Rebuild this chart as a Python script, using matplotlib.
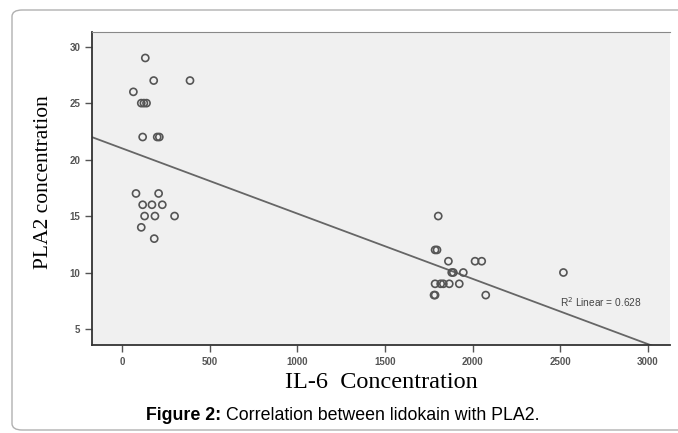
import numpy as np
import matplotlib
matplotlib.use("Agg")
import matplotlib.pyplot as plt
from matplotlib.patches import FancyBboxPatch

# IL-6 vs PLA2 values
il6 = [133, 181, 388, 65, 110, 125, 140, 118, 201, 213,
       80, 209, 118, 171, 230, 129, 188, 300, 110, 184,
       1804, 1786, 1797, 1862, 2014, 2052,
       1881, 1890, 1947, 2518,
       1786, 1818, 1833, 1867, 1924,
       1780, 1786, 2075]
pla2 = [29, 27, 27, 26, 25, 25, 25, 22, 22, 22,
        17, 17, 16, 16, 16, 15, 15, 15, 14, 13,
        15, 12, 12, 11, 11, 11,
        10, 10, 10, 10,
        9, 9, 9, 9, 9,
        8, 8, 8]

# fit line as printed by SPSS
intercept = 21.0
slope = -0.00578
r2_text = "R$^2$ Linear = 0.628"

x_ticks = [0, 500, 1000, 1500, 2000, 2500, 3000]
y_ticks = [5, 10, 15, 20, 25, 30]

fig = plt.figure(figsize=(6.78, 4.33), dpi=100)

# card frame round the figure
card = FancyBboxPatch((12 / 678, 3 / 433), 700 / 678, 420 / 433,
                      boxstyle="round,pad=0,rounding_size=0.015",
                      transform=fig.transFigure, fill=False,
                      edgecolor="#b0b0b0", linewidth=1.0)
fig.patches.append(card)

ax = fig.add_axes([92 / 678, 1 - 345 / 433, 578 / 678, 313 / 433])
ax.set_facecolor("#f0f0f0")

ax.scatter(il6, pla2, s=26, facecolors="none", edgecolors="#555555",
           linewidths=1.2, zorder=3)

xs = np.array([-171, 3126])
ax.plot(xs, intercept + slope * xs, color="#666666", linewidth=1.3, zorder=2)

ax.text(2500, 7.4, r2_text, fontsize=7.3, color="#444444",
        family="Liberation Sans", va="center", ha="left")

ax.set_xlim(-171, 3126)
ax.set_ylim(3.58, 31.3)
ax.set_xticks(x_ticks)
ax.set_yticks(y_ticks)
ax.tick_params(direction="out", length=5, width=1, color="#555555",
               labelsize=7, labelcolor="#555555")
for lab in ax.get_xticklabels() + ax.get_yticklabels():
    lab.set_family("Liberation Sans")
    lab.set_fontweight("bold")

ax.spines["right"].set_visible(False)
ax.spines["top"].set_color("#888888")
ax.spines["left"].set_color("#333333")
ax.spines["bottom"].set_color("#333333")
ax.spines["left"].set_linewidth(1.3)
ax.spines["bottom"].set_linewidth(1.3)

ax.set_xlabel("IL-6  Concentration", family="Liberation Serif",
              fontsize=17.5, labelpad=4)
ax.set_ylabel("PLA2 concentration", family="Liberation Serif",
              fontsize=15.5)
ax.yaxis.set_label_coords(-0.068, 0.52)

fig.text(221 / 678, 1 - 415 / 433, "Figure 2:", fontweight="bold",
         family="Liberation Sans", fontsize=12.8, ha="right", va="center")
fig.text(226 / 678, 1 - 415 / 433, "Correlation between lidokain with PLA2.",
         family="Liberation Sans", fontsize=12.8, ha="left", va="center")

fig.savefig("out.png", dpi=100)
